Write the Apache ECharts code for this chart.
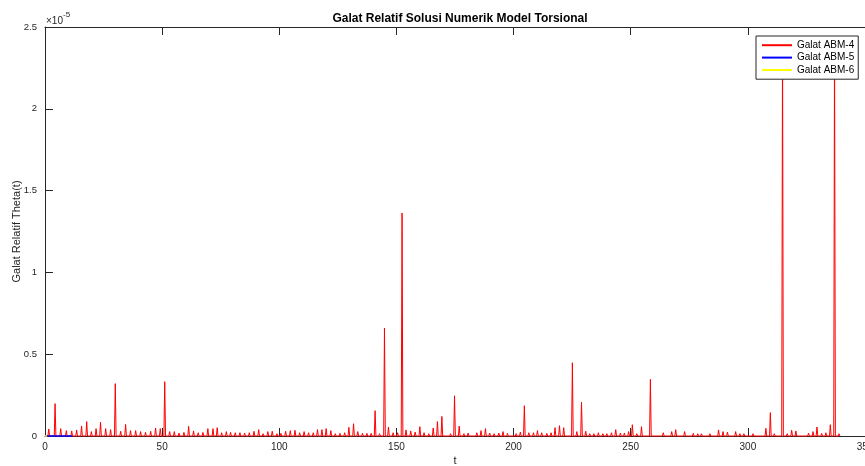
<!DOCTYPE html>
<html>
<head>
<meta charset="utf-8">
<script src="https://cdn.jsdelivr.net/npm/echarts@6/dist/echarts.min.js"></script>
<style>
html,body{margin:0;padding:0;background:#fff;}
#chart{width:865px;height:466px;}
</style>
</head>
<body>
<div id="chart"></div>
<script>
// Spike positions (t) and heights (units of 1e-5) for Galat ABM-4
const abm4T = [
1.6,4.3,6.7,9.1,11.4,13.5,15.6,17.8,19.8,21.8,23.7,25.9,28.0,30.0,32.3,34.4,36.5,38.7,40.8,42.9,45.1,47.2,49.2,51.1,53.2,55.2,57.2,59.3,61.3,63.4,65.4,67.4,69.5,
71.7,73.5,75.4,77.4,79.2,81.2,83.2,85.2,87.2,89.2,91.2,93.1,95.1,97.0,99.0,100.7,102.7,104.7,106.7,108.7,110.6,112.5,114.5,116.3,118.2,120.0,122.0,123.9,125.9,127.9,129.7,131.7,133.5,135.5,137.4,139.2,
140.9,142.8,144.9,146.6,148.6,150.5,152.4,154.1,156.1,158.0,160.0,161.8,163.8,165.7,167.5,169.4,171.2,173.1,174.8,176.8,178.8,180.6,182.5,184.3,186.1,188.0,189.8,191.7,193.7,195.5,197.4,199.2,201.1,202.9,204.6,206.5,208.5,
210.2,212.0,214.2,216.0,217.7,219.6,221.4,223.1,225.1,227.0,229.0,230.8,232.5,234.3,236.2,238.1,239.8,241.8,243.6,245.6,247.3,249.1,250.7,252.6,254.6,256.4,258.4,260.2,262.1,263.9,265.8,267.5,269.2,271.0,273.0,274.9,276.7,278.6,
280.2,282.0,283.8,285.7,287.5,289.4,291.3,293.1,294.8,296.6,298.3,300.5,302.2,304.2,306.0,307.7,309.6,311.3,313.1,314.8,316.8,318.7,320.5,322.4,324.2,325.9,327.8,329.5,331.5,333.3,335.2,337.0,338.9
];
const abm4V = [
0.043,0.198,0.045,0.033,0.031,0.037,0.061,0.088,0.027,0.045,0.084,0.045,0.039,0.32,0.029,0.071,0.033,0.033,0.027,0.022,0.029,0.049,0.045,0.332,0.027,0.027,0.018,0.022,0.059,0.031,0.02,0.022,0.045,
0.045,0.051,0.02,0.027,0.022,0.02,0.02,0.018,0.02,0.029,0.039,0.014,0.027,0.029,0.014,0.016,0.029,0.033,0.035,0.02,0.027,0.02,0.02,0.039,0.039,0.045,0.033,0.014,0.016,0.02,0.053,0.075,0.027,0.016,0.016,0.016,
0.155,0.014,0.66,0.055,0.02,0.02,1.363,0.037,0.031,0.024,0.057,0.02,0.014,0.049,0.088,0.12,0.012,0.014,0.246,0.061,0.014,0.018,0.012,0.02,0.033,0.045,0.018,0.014,0.018,0.027,0.016,0.01,0.014,0.024,0.185,0.02,0.02,
0.033,0.02,0.016,0.02,0.051,0.063,0.051,0.01,0.448,0.027,0.206,0.029,0.014,0.014,0.02,0.014,0.014,0.02,0.039,0.018,0.018,0.027,0.069,0.014,0.057,0.008,0.346,0.012,0.01,0.02,0.012,0.027,0.039,0.01,0.027,0.012,0.016,0.014,
0.014,0.012,0.014,0.008,0.037,0.027,0.024,0.01,0.027,0.014,0.014,0.01,0.014,0.01,0.01,0.047,0.143,0.014,0.01,2.42,0.014,0.035,0.031,0.01,0.01,0.018,0.027,0.055,0.016,0.02,0.069,2.42,0.014
];
// ABM-5 and ABM-6 (near zero, short spans)
const abm5T = [0, 11.5];
const abm5V = [0, 0];
const abm6T = [0, 0.9];
const abm6V = [0, 0];

const xTicks = [0,50,100,150,200,250,300,350];
const yTicks = [0,0.5,1,1.5,2,2.5];

function spikeData(ts, vs){
  const out = [[0,0]];
  for (let i=0;i<ts.length;i++){
    out.push([ts[i]-0.35,0]);
    out.push([ts[i],vs[i]]);
    out.push([ts[i]+0.35,0]);
  }
  return out;
}
function pairs(ts, vs){ return ts.map((t,i)=>[t,vs[i]]); }

const chart = echarts.init(document.getElementById('chart'), null, {renderer:'canvas'});
const axisCol = '#262626';
const font = 'Liberation Sans, Arial, Helvetica, sans-serif';
const xBase = {
  type:'value', min:xTicks[0], max:xTicks[xTicks.length-1], interval:50,
  axisLine:{show:true, onZero:false, lineStyle:{color:axisCol, width:1}},
  axisTick:{show:true, inside:true, length:8, lineStyle:{color:axisCol}},
  splitLine:{show:false}
};
chart.setOption({
  animation:false,
  backgroundColor:'#fff',
  textStyle:{fontFamily:font},
  title:{
    text:'Galat Relatif Solusi Numerik Model Torsional',
    left:455, top:8, textAlign:'center',
    textStyle:{fontFamily:font, fontSize:12, fontWeight:'bold', color:'#000'}
  },
  grid:{left:45, top:27, right:0, bottom:30, containLabel:false, outerBoundsMode:'none'},
  legend:{
    orient:'vertical', left:756, top:36,
    padding:[4,4,4,5], itemGap:2, itemWidth:30, itemHeight:13,
    backgroundColor:'#fff', borderColor:axisCol, borderWidth:1,
    itemStyle:{opacity:0},
    textStyle:{fontFamily:font, fontSize:10, color:'#000'},
    data:['Galat ABM-4','Galat ABM-5','Galat ABM-6']
  },
  graphic:[{
    type:'text', left:46, top:11,
    style:{
      text:'{a|×10}{b|-5}',
      rich:{
        a:{fontFamily:font, fontSize:10, fill:axisCol, verticalAlign:'bottom', padding:[5,0,0,0]},
        b:{fontFamily:font, fontSize:8, fill:axisCol, verticalAlign:'top'}
      }
    }
  }],
  xAxis:[
    Object.assign({}, xBase, {
      position:'bottom',
      name:'t', nameLocation:'middle', nameGap:19, nameMoveOverlap:false,
      nameTextStyle:{fontFamily:font, fontSize:11, color:axisCol},
      axisLabel:{show:true, margin:6, fontFamily:font, fontSize:10, color:axisCol, hideOverlap:false}
    }),
    Object.assign({}, xBase, {position:'top', axisLabel:{show:false}})
  ],
  yAxis:[{
    type:'value', min:yTicks[0], max:yTicks[yTicks.length-1], interval:0.5,
    axisLine:{show:true, onZero:false, lineStyle:{color:axisCol, width:1}},
    axisTick:{show:true, inside:true, length:8, lineStyle:{color:axisCol}},
    splitLine:{show:false},
    axisLabel:{show:true, margin:8, fontFamily:font, fontSize:9.5, color:axisCol,
      formatter:v=>String(Math.round(v*10)/10)},
    name:'Galat Relatif Theta(t)', nameLocation:'middle', nameGap:23, nameMoveOverlap:false,
    nameTextStyle:{fontFamily:font, fontSize:11, color:axisCol}
  }],
  series:[
    {name:'Galat ABM-4', type:'line', data:spikeData(abm4T, abm4V), symbol:'none', showSymbol:false,
      lineStyle:{color:'#ff0000', width:1}, itemStyle:{color:'#ff0000'}, clip:false},
    {name:'Galat ABM-5', type:'line', data:pairs(abm5T, abm5V), symbol:'none', showSymbol:false,
      lineStyle:{color:'#0000ff', width:1.5}, itemStyle:{color:'#0000ff'}, clip:false},
    {name:'Galat ABM-6', type:'line', data:pairs(abm6T, abm6V), symbol:'none', showSymbol:false,
      lineStyle:{color:'#ffff00', width:1.5}, itemStyle:{color:'#ffff00'}, clip:false}
  ]
});
</script>
</body>
</html>
